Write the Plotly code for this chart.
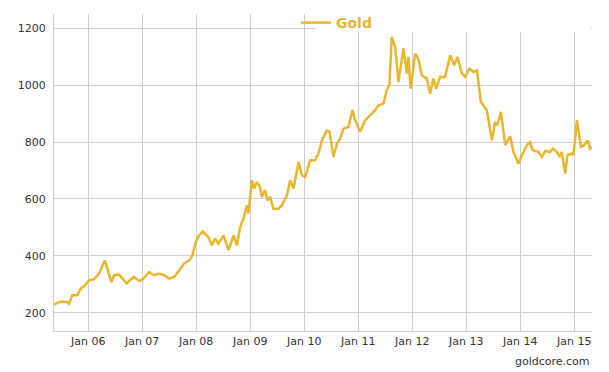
import plotly.graph_objects as go

dates = [
    "2005-05-15", "2005-06-29", "2005-08-13", "2005-08-24", "2005-09-16", "2005-10-20",
    "2005-11-12", "2005-12-04", "2006-01-08", "2006-02-10", "2006-03-16", "2006-04-23",
    "2006-05-11", "2006-06-07", "2006-06-25", "2006-07-29", "2006-09-01", "2006-09-19",
    "2006-10-16", "2006-11-07", "2006-12-11", "2007-01-03", "2007-02-17", "2007-03-23",
    "2007-04-26", "2007-05-30", "2007-07-02", "2007-08-05", "2007-09-08", "2007-10-12",
    "2007-11-15", "2007-12-07", "2007-12-30", "2008-01-21", "2008-02-14", "2008-03-24",
    "2008-04-16", "2008-05-08", "2008-05-31", "2008-07-04", "2008-08-07", "2008-09-10",
    "2008-10-03", "2008-10-25", "2008-11-16", "2008-12-09", "2008-12-20", "2009-01-12",
    "2009-01-28", "2009-02-15", "2009-03-08", "2009-03-20", "2009-04-11", "2009-04-27",
    "2009-05-15", "2009-06-07", "2009-07-11", "2009-08-03", "2009-09-06", "2009-09-28",
    "2009-10-21", "2009-11-24", "2009-12-17", "2010-01-08", "2010-02-11", "2010-03-16",
    "2010-04-08", "2010-05-01", "2010-06-03", "2010-06-21", "2010-07-18", "2010-08-10",
    "2010-09-01", "2010-09-23", "2010-10-27", "2010-11-23", "2010-12-11", "2011-01-14",
    "2011-02-17", "2011-03-23", "2011-04-26", "2011-05-18", "2011-06-21", "2011-07-13",
    "2011-07-31", "2011-08-16", "2011-09-08", "2011-09-30", "2011-10-16", "2011-11-03",
    "2011-11-26", "2011-12-06", "2011-12-22", "2012-01-21", "2012-02-12", "2012-03-06",
    "2012-04-09", "2012-05-01", "2012-05-23", "2012-06-11", "2012-07-08", "2012-08-11",
    "2012-09-14", "2012-10-11", "2012-11-02", "2012-12-02", "2012-12-24", "2013-01-22",
    "2013-02-19", "2013-03-14", "2013-04-10", "2013-04-27", "2013-05-20", "2013-06-23",
    "2013-07-15", "2013-07-31", "2013-08-23", "2013-09-21", "2013-10-25", "2013-11-16",
    "2013-12-20", "2014-01-12", "2014-02-15", "2014-03-08", "2014-03-26", "2014-05-04",
    "2014-05-27", "2014-06-18", "2014-07-22", "2014-08-09", "2014-09-06", "2014-09-23",
    "2014-10-09", "2014-11-01", "2014-11-16", "2014-12-16", "2014-12-27", "2015-01-19",
    "2015-02-15", "2015-03-08", "2015-04-03", "2015-04-18", "2015-05-01",
]

gold = [
    229, 240, 238, 232, 262, 262,
    285, 293, 314, 318, 338, 384,
    355, 308, 332, 334, 314, 303,
    317, 326, 312, 317, 343, 332,
    338, 332, 320, 326, 349, 373,
    384, 402, 449, 472, 486, 466,
    437, 461, 443, 472, 420, 472,
    437, 502, 531, 578, 549, 666,
    637, 660, 642, 607, 631, 595,
    607, 566, 566, 578, 613, 666,
    637, 730, 683, 677, 736, 736,
    760, 806, 841, 836, 748, 795,
    812, 847, 853, 912, 877, 836,
    877, 894, 912, 929, 935, 982,
    1000, 1169, 1134, 1011, 1076, 1129,
    1041, 1099, 988, 1111, 1093, 1035,
    1023, 970, 1023, 988, 1029, 1029,
    1105, 1070, 1099, 1041, 1029, 1058,
    1046, 1052, 941, 929, 912, 806,
    871, 859, 906, 789, 820, 765,
    724, 754, 789, 800, 771, 765,
    748, 769, 765, 777, 765, 748,
    765, 689, 754, 760, 754, 877,
    783, 789, 806, 777, 783,
]

x_range = ["2005-05-15", "2015-05-01"]
y_range = [136, 1250]
y_ticks = [200, 400, 600, 800, 1000, 1200]
x_ticks = ["2006-01-01", "2007-01-01", "2008-01-01", "2009-01-01", "2010-01-01",
           "2011-01-01", "2012-01-01", "2013-01-01", "2014-01-01", "2015-01-01"]
x_tick_labels = ["Jan 06", "Jan 07", "Jan 08", "Jan 09", "Jan 10",
                 "Jan 11", "Jan 12", "Jan 13", "Jan 14", "Jan 15"]

GOLD = "#E8B62F"
GRID = "#cfcfcf"
FONT = "DejaVu Sans"

fig = go.Figure()
fig.add_trace(go.Scatter(
    x=dates, y=gold, mode="lines", name="Gold",
    line=dict(color=GOLD, width=2.5),
    hoverinfo="x+y",
))

W, H = 609, 372
L, R, T, B = 54, 17, 14, 41
pw, ph = W - L - R, H - T - B

fig.update_layout(
    width=W, height=H,
    margin=dict(l=L, r=R, t=T, b=B, pad=0, autoexpand=False),
    paper_bgcolor="white", plot_bgcolor="white",
    font=dict(family=FONT, size=11, color="#333333"),
    showlegend=True,
    legend=dict(
        xref="container", yref="container",
        x=296 / W, xanchor="left",
        y=1 - 23 / H, yanchor="middle",
        bgcolor="rgba(0,0,0,0)", borderwidth=0,
        font=dict(family=FONT, size=14, color=GOLD, weight="bold"),
        itemwidth=30,
    ),
    xaxis=dict(
        range=x_range, type="date",
        tickmode="array", tickvals=x_ticks, ticktext=x_tick_labels,
        showgrid=True, gridcolor=GRID, gridwidth=1,
        showline=True, linecolor=GRID, linewidth=1,
        ticks="", zeroline=False,
        tickfont=dict(family=FONT, size=11, color="#333333"),
    ),
    yaxis=dict(
        range=y_range,
        tickmode="array", tickvals=y_ticks,
        showgrid=True, gridcolor=GRID, gridwidth=1,
        showline=True, linecolor=GRID, linewidth=1,
        ticks="", zeroline=False,
        ticklabelstandoff=5,
        tickfont=dict(family=FONT, size=11, color="#333333"),
    ),
    shapes=[dict(
        type="rect", xref="paper", yref="paper",
        x0=(316 - L) / pw, x1=(591 - L) / pw,
        y0=(H - B - 32) / ph, y1=1.0,
        fillcolor="white", line=dict(width=0), layer="above",
    )],
    annotations=[dict(
        text="goldcore.com", xref="paper", yref="paper",
        x=1.0, xanchor="right", y=(H - B - 361) / ph, yanchor="middle",
        showarrow=False, font=dict(family=FONT, size=11, color="#333333"),
    )],
)

fig.write_html(
    "out.html",
    config={"displayModeBar": False},
    post_script="document.body.style.margin='0';document.body.style.overflow='hidden';",
)
